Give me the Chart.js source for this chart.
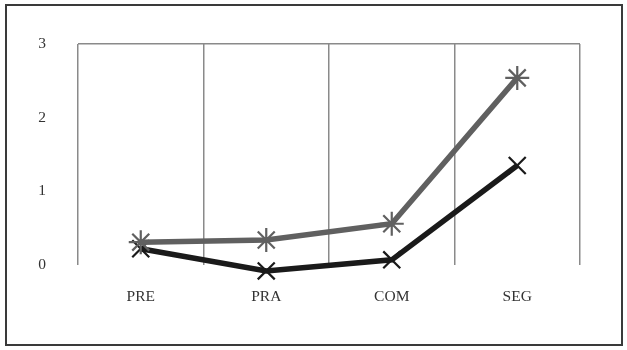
<!DOCTYPE html>
<html>
<head>
<meta charset="utf-8">
<script src="https://cdn.jsdelivr.net/npm/chart.js@4"></script>
<style>
  body { margin: 0; background: #fff; }
  #frame { position: absolute; left: 5px; top: 4px; width: 614px; height: 338px; border: 2px solid #3a3a3a; }
  #wrap { position: absolute; left: 0; top: 0; width: 627px; height: 350px; }
</style>
</head>
<body>
<div id="frame"></div>
<div id="wrap"><canvas id="chart" width="627" height="350"></canvas></div>
<script>
const categories = ['PRE', 'PRA', 'COM', 'SEG'];
const grayValues = [0.31, 0.34, 0.56, 2.54];
const blackValues = [0.22, -0.08, 0.07, 1.35];
const yTicks = [0, 1, 2, 3];

const ctx = document.getElementById('chart').getContext('2d');
const chart = new Chart(ctx, {
    type: 'line',
    data: {
        labels: categories,
        datasets: [{
            data: grayValues,
            borderColor: '#606060',
            borderWidth: 5.5,
            pointStyle: 'star',
            pointRadius: 12,
            pointBorderWidth: 2.2,
            pointBorderColor: '#606060',
            pointBackgroundColor: '#606060',
            clip: false
        }, {
            data: blackValues,
            borderColor: '#1a1a1a',
            borderWidth: 5.5,
            pointStyle: 'crossRot',
            pointRadius: 12,
            pointBorderWidth: 2.2,
            pointBorderColor: '#1a1a1a',
            pointBackgroundColor: '#1a1a1a',
            clip: false
        }]
    },
    options: {
        responsive: false,
        animation: false,
        layout: {
            padding: { left: 0, right: 47, top: 44, bottom: 0 }
        },
        scales: {
            x: {
                offset: true,
                grid: {
                    offset: true,
                    color: '#8a8a8a',
                    lineWidth: 1.5,
                    drawTicks: false
                },
                border: { display: false },
                ticks: {
                    padding: 23,
                    color: '#333',
                    font: { family: 'Liberation Serif', size: 15.5 }
                },
                afterFit: (scale) => { scale.height = 85; }
            },
            y: {
                min: 0,
                max: 3,
                afterBuildTicks: (scale) => { scale.ticks = yTicks.map(v => ({ value: v })); },
                grid: {
                    color: (c) => c.tick && c.tick.value === 3 ? '#8a8a8a' : 'rgba(0,0,0,0)',
                    lineWidth: 1.5,
                    drawTicks: false
                },
                border: { display: false },
                ticks: {
                    padding: 32,
                    color: '#333',
                    font: { family: 'Liberation Serif', size: 15.5 }
                },
                afterFit: (scale) => { scale.width = 78; }
            }
        },
        plugins: {
            legend: { display: false },
            tooltip: { enabled: false }
        }
    }
});
</script>
</body>
</html>
